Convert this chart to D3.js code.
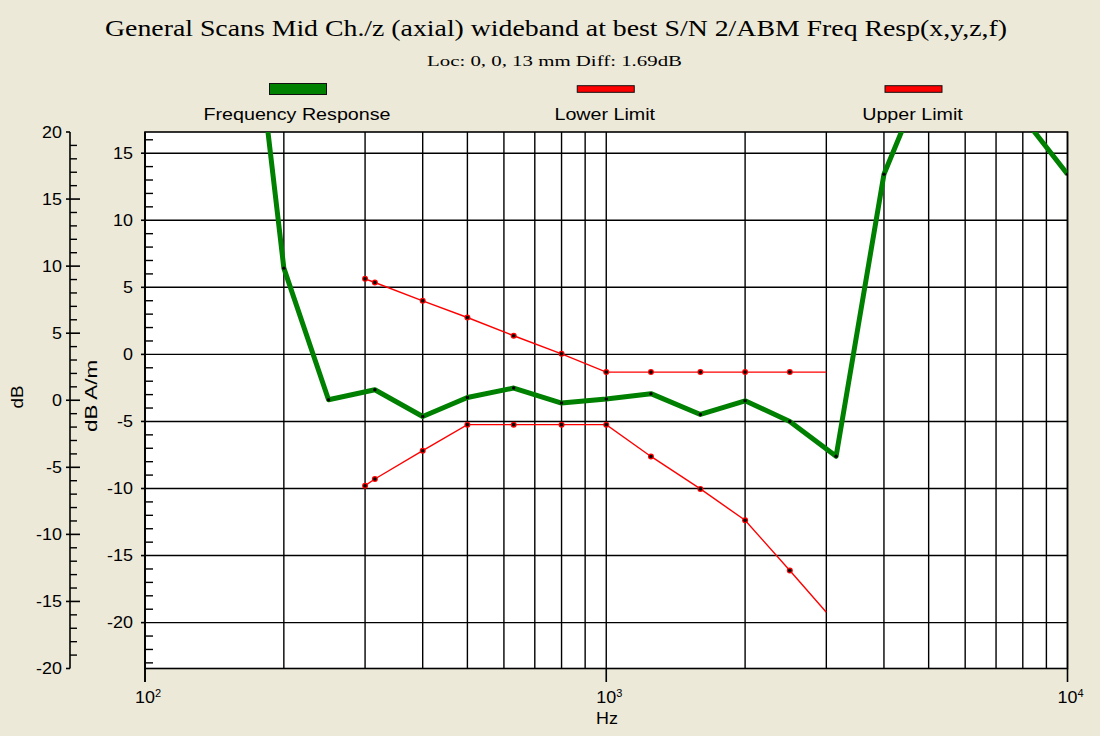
<!DOCTYPE html>
<html>
<head>
<meta charset="utf-8">
<script src="https://cdn.jsdelivr.net/npm/d3@7"></script>
<style>
  html, body { margin: 0; padding: 0; background: #ece9d8; }
  svg { display: block; }
  text { font-family: "Liberation Sans", Arial, sans-serif; fill: #000; }
  .serif { font-family: "Liberation Serif", "Times New Roman", serif; }
</style>
</head>
<body>
<svg id="chart" width="1100" height="736"></svg>
<script>
// measured response, dB A/m (points above 4 kHz run off the top of the plot)
const respFreqs = [160, 200, 250, 315, 400, 500, 630, 800, 1000, 1250, 1600, 2000, 2500, 3150, 4000, 5000, 6300, 8000, 10000];
const respValues = [35, 6.43, -3.38, -2.64, -4.63, -3.21, -2.51, -3.63, -3.33, -2.93, -4.48, -3.46, -5.0, -7.6, 13.43, 21.5, 22, 17.7, 13.43];

// limit masks
const limitFreqs = [300, 315, 400, 500, 630, 800, 1000, 1250, 1600, 2000, 2500, 3000];
const lowerValues = [-9.79, -9.29, -7.18, -5.24, -5.24, -5.24, -5.24, -7.61, -10.03, -12.37, -16.12, -19.23];
const upperValues = [5.63, 5.36, 3.99, 2.75, 1.39, 0.04, -1.32, -1.32, -1.32, -1.32, -1.32, -1.32];

const legendNames = ["Frequency Response", "Lower Limit", "Upper Limit"];
const dbTicks = [-20, -15, -10, -5, 0, 5, 10, 15, 20];
const dbamTicks = [-20, -15, -10, -5, 0, 5, 10, 15];
const decades = [100, 1000, 10000];

const title = "General Scans Mid Ch./z (axial) wideband at best S/N 2/ABM Freq Resp(x,y,z,f)";
const subtitle = "Loc: 0, 0, 13 mm Diff: 1.69dB";

const svg = d3.select("#chart");
const pLeft = 145, pRight = 1067.5, pTop = 132, pBottom = 668.5;
const sx = 1.12;  // old bitmap font runs wide

const x = d3.scaleLog().domain([100, 10000]).range([pLeft, pRight]);
const yDb = d3.scaleLinear().domain([-20, 20]).range([pBottom, pTop]);
const yAm = d3.scaleLinear().domain([-23.42, 16.58]).range([pBottom, pTop]);

// titles
svg.append("text").attr("class", "serif")
    .attr("x", 105).attr("y", 36)
    .attr("font-size", 24)
    .attr("textLength", 902).attr("lengthAdjust", "spacingAndGlyphs")
    .text(title);

svg.append("text").attr("class", "serif")
    .attr("x", 427).attr("y", 66)
    .attr("font-size", 15.5)
    .attr("textLength", 255).attr("lengthAdjust", "spacingAndGlyphs")
    .text(subtitle);

// legend
const legendX = d3.scalePoint().domain(legendNames).range([298, 913.5]);
const legendColor = d3.scaleOrdinal().domain(legendNames).range(["#008000", "#ff0000", "#ff0000"]);
const legendH = d3.scaleOrdinal().domain(legendNames).range([11, 6.6, 6.6]);

const leg = svg.selectAll(".leg")
    .data(legendNames)
    .enter().append("g")
    .attr("class", "leg")
    .attr("transform", d => `translate(${legendX(d)},0)`);

leg.append("rect")
    .attr("x", -28.5).attr("width", 57)
    .attr("y", d => 89 - legendH(d) / 2)
    .attr("height", d => legendH(d))
    .attr("fill", d => legendColor(d))
    .attr("stroke", "#111").attr("stroke-width", 1);

leg.append("text")
    .attr("transform", `translate(-1,120) scale(1.23,1)`)
    .attr("text-anchor", "middle")
    .attr("font-size", 16)
    .text(d => d);

// plot area
svg.append("rect")
    .attr("x", pLeft).attr("y", pTop)
    .attr("width", pRight - pLeft).attr("height", pBottom - pTop)
    .attr("fill", "#fff");

svg.append("clipPath").attr("id", "plotclip")
  .append("rect")
    .attr("x", pLeft).attr("y", pTop)
    .attr("width", pRight - pLeft).attr("height", pBottom - pTop);

const grid = svg.append("g").attr("stroke", "#000").attr("stroke-width", 1.4);

grid.selectAll(".vg")
    .data(x.ticks())
    .enter().append("line")
    .attr("x1", d => x(d)).attr("x2", d => x(d))
    .attr("y1", pTop).attr("y2", pBottom);

grid.selectAll(".hg")
    .data(dbamTicks)
    .enter().append("line")
    .attr("x1", pLeft).attr("x2", pRight)
    .attr("y1", d => yAm(d)).attr("y2", d => yAm(d));

svg.append("rect")
    .attr("x", pLeft).attr("y", pTop)
    .attr("width", pRight - pLeft).attr("height", pBottom - pTop)
    .attr("fill", "none").attr("stroke", "#000").attr("stroke-width", 1.6);

// bottom axis (decades only)
const xAxis = svg.append("g");
xAxis.selectAll(".xt")
    .data(decades)
    .enter().append("line")
    .attr("x1", d => x(d)).attr("x2", d => x(d))
    .attr("y1", pBottom).attr("y2", 682)
    .attr("stroke", "#000").attr("stroke-width", 1.6);

const xl = xAxis.selectAll(".xl")
    .data(decades)
    .enter().append("g")
    .attr("transform", d => `translate(${x(d)},0)`);
xl.append("text")
    .attr("transform", `translate(0,703) scale(${sx},1)`)
    .attr("text-anchor", "middle")
    .attr("font-size", 16)
    .text("10");
xl.append("text")
    .attr("x", 10).attr("y", 697)
    .attr("font-size", 11)
    .text(d => Math.round(Math.log10(d)));

svg.append("text")
    .attr("transform", `translate(607,724) scale(${sx},1)`)
    .attr("text-anchor", "middle")
    .attr("font-size", 16)
    .text("Hz");

// outer dB axis
const outer = svg.append("g").attr("stroke", "#000");
outer.append("line")
    .attr("x1", 70).attr("x2", 70)
    .attr("y1", yDb(20)).attr("y2", yDb(-20))
    .attr("stroke-width", 1.6);
outer.selectAll(".mj")
    .data(dbTicks)
    .enter().append("line")
    .attr("x1", 66)
    .attr("x2", d => Math.abs(d) === 20 ? 70 : 80)
    .attr("y1", d => yDb(d)).attr("y2", d => yDb(d))
    .attr("stroke-width", 1.6);
outer.selectAll(".mn")
    .data(d3.range(-20, 21).filter(d => d % 5 !== 0))
    .enter().append("line")
    .attr("x1", 70).attr("x2", 77)
    .attr("y1", d => yDb(d)).attr("y2", d => yDb(d))
    .attr("stroke-width", 1.4);

svg.selectAll(".ol")
    .data(dbTicks)
    .enter().append("text")
    .attr("transform", d => `translate(62,${yDb(d)}) scale(${sx},1)`)
    .attr("text-anchor", "end")
    .attr("dy", "0.36em")
    .attr("font-size", 16)
    .text(d => d);

// inner dB A/m axis
const inner = svg.append("g").attr("stroke", "#000");
inner.selectAll(".mj")
    .data(dbamTicks)
    .enter().append("line")
    .attr("x1", 141).attr("x2", pLeft)
    .attr("y1", d => yAm(d)).attr("y2", d => yAm(d))
    .attr("stroke-width", 1.6);
inner.selectAll(".mn")
    .data(d3.range(-23, 17).filter(d => d % 5 !== 0))
    .enter().append("line")
    .attr("x1", pLeft).attr("x2", 153)
    .attr("y1", d => yAm(d)).attr("y2", d => yAm(d))
    .attr("stroke-width", 1.4);
inner.append("line")
    .attr("x1", pLeft).attr("x2", pLeft)
    .attr("y1", pTop).attr("y2", 682)
    .attr("stroke-width", 1.6);

svg.selectAll(".il")
    .data(dbamTicks)
    .enter().append("text")
    .attr("transform", d => `translate(133,${yAm(d)}) scale(${sx},1)`)
    .attr("text-anchor", "end")
    .attr("dy", "0.36em")
    .attr("font-size", 16)
    .text(d => d);

// axis titles
svg.append("text")
    .attr("transform", "translate(22.5,397) rotate(-90)")
    .attr("x", -11.5)
    .attr("font-size", 16)
    .attr("textLength", 23).attr("lengthAdjust", "spacingAndGlyphs")
    .text("dB");

svg.append("text")
    .attr("transform", "translate(97,396) rotate(-90)")
    .attr("x", -36)
    .attr("font-size", 16)
    .attr("textLength", 72).attr("lengthAdjust", "spacingAndGlyphs")
    .text("dB A/m");

// series
const plot = svg.append("g").attr("clip-path", "url(#plotclip)");

const line = d3.line()
    .x(d => x(d[0]))
    .y(d => yAm(d[1]));

const resp = d3.zip(respFreqs, respValues);
const lower = d3.zip(limitFreqs, lowerValues);
const upper = d3.zip(limitFreqs, upperValues);

[lower, upper].forEach(series => {
  plot.append("path")
      .datum(series)
      .attr("d", line)
      .attr("fill", "none")
      .attr("stroke", "#ff0000")
      .attr("stroke-width", 1.4);
  const pts = series.slice(0, -1);
  plot.selectAll(null)
      .data(pts)
      .enter().append("circle")
      .attr("cx", d => x(d[0])).attr("cy", d => yAm(d[1]))
      .attr("r", 3).attr("fill", "#ff0000");
  plot.selectAll(null)
      .data(pts)
      .enter().append("circle")
      .attr("cx", d => x(d[0])).attr("cy", d => yAm(d[1]))
      .attr("r", 1.8).attr("fill", "#000");
});

plot.append("path")
    .datum(resp)
    .attr("d", line)
    .attr("fill", "none")
    .attr("stroke", "#008000")
    .attr("stroke-width", 5)
    .attr("stroke-linejoin", "round");

plot.selectAll(".rp")
    .data(resp)
    .enter().append("circle")
    .attr("cx", d => x(d[0])).attr("cy", d => yAm(d[1]))
    .attr("r", 1.7).attr("fill", "#000");
</script>
</body>
</html>
